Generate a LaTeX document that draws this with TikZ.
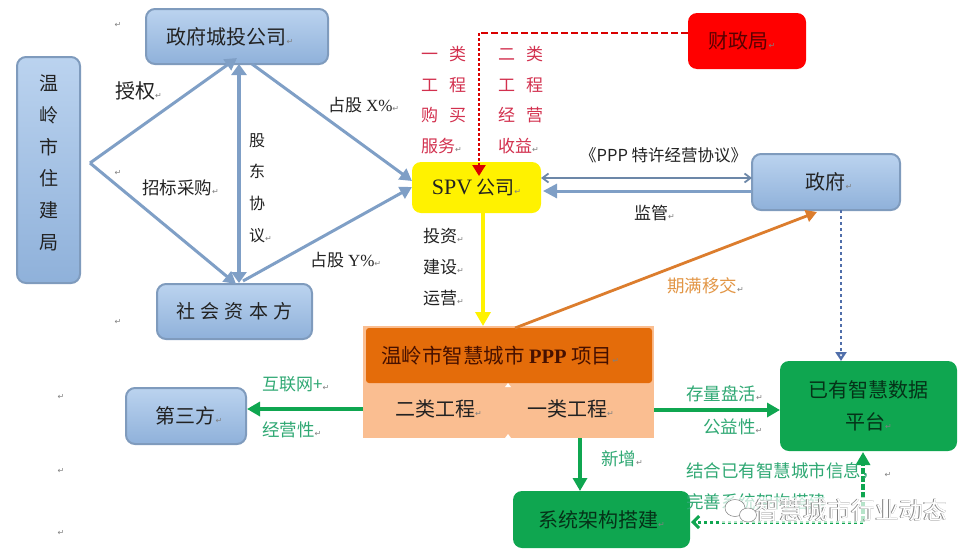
\documentclass[tikz,border=0pt]{standalone}
\usepackage{fontspec}
\setmainfont{Noto Sans CJK SC}
\newfontfamily\lat{Liberation Serif}
\newfontfamily\retf{DejaVu Sans}
\usetikzlibrary{arrows.meta}
\definecolor{bedge}{HTML}{7F9BBD}
\definecolor{barrow}{HTML}{7F9FC6}
\definecolor{btop}{HTML}{BBD3EF}
\definecolor{bbot}{HTML}{8FB1DA}
\definecolor{gbox}{HTML}{0FA650}
\definecolor{gtxt}{HTML}{2FA873}
\definecolor{rtxt}{HTML}{D2304E}
\definecolor{ink}{HTML}{222222}
\definecolor{litebox}{HTML}{FABE91}
\definecolor{orgbox}{HTML}{E46C0A}
\definecolor{orgtxt}{HTML}{461000}
\definecolor{orgline}{HTML}{DC7D2D}
\definecolor{orglab}{HTML}{E29646}
\definecolor{dotblue}{HTML}{506EAA}
\newcommand{\rt}{{\retf\fontsize{8}{8}\selectfont\textcolor{gray}{↵}}}
\newcommand{\fs}[1]{\fontsize{#1}{#1}\selectfont}
\tikzset{
  x=1pt,y=1pt,
  boxbase/.style={inner sep=0pt,rounded corners=9pt,align=center,text=ink,font=\fs{19}},
  bluebox/.style={boxbase,draw=bedge,line width=2pt,top color=btop,bottom color=bbot},
  greenbox/.style={boxbase,fill=gbox,text=black!70!gbox},
  lab/.style={inner sep=0pt,anchor=west,text=ink,font=\fs{17}},
  glab/.style={lab,text=gtxt},
  stack/.style={inner sep=0pt,anchor=north west,align=left,text=ink},
  retmark/.style={inner sep=0pt},
  bline/.style={draw=barrow,line width=3pt},
  btip/.style={-{Triangle[width=13pt,length=12pt]}},
  gline/.style={draw=gbox,line width=3.4pt,-{Triangle[width=14pt,length=13pt]}},
}
\begin{document}
\begin{tikzpicture}
\useasboundingbox (0,0) rectangle (980,-552);
% boxes
\node[bluebox,minimum width=63,minimum height=226,font=\fontsize{19}{31.7}\selectfont] (wz) at (48.5,-170) {温\\岭\\市\\住\\建\\局\\[-15.7pt]~};
\node[bluebox,minimum width=182,minimum height=55] (city) at (237,-36.5) {\fs{20}政府城投公司\rt\hspace{14pt}};
\node[bluebox,minimum width=155,minimum height=55] (social) at (234.5,-311.5) {\fs{19}社\hspace{5.5pt}会\hspace{5.5pt}资\hspace{5.5pt}本\hspace{5.5pt}方};
\node[boxbase,fill=yellow,minimum width=129,minimum height=51] (spv) at (476.5,-187.5) {{\lat\fs{22}SPV} 公司\rt};
\node[bluebox,minimum width=148,minimum height=56] (gov) at (826,-182) {\hspace{6pt}\fs{20}政府\rt};
\node[boxbase,fill=red,minimum width=118,minimum height=56,text=black!65!red] (fin) at (747,-41) {\fs{20}财政局\rt\hspace{10pt}};
\node[inner sep=0pt,fill=litebox,minimum width=291,minimum height=112] (lite) at (508.5,-382) {};
\node[inner sep=0pt,rounded corners=3pt,fill=orgbox,minimum width=286,minimum height=55,text=orgtxt,font=\fs{20.5}] (proj) at (509,-355.5) {\hspace{-18pt}温岭市智慧城市 {\lat\bfseries PPP} 项目\rt};
\node[bluebox,minimum width=120,minimum height=56] (third) at (186,-416) {\hspace{6pt}\fs{20}第三方\rt};
\node[greenbox,minimum width=177,minimum height=90,font=\fontsize{20}{32}\selectfont] (exist) at (868.5,-406) {已有智慧数据\\平台\rt};
\node[greenbox,minimum width=177,minimum height=57] (sys) at (601.5,-519.5) {\fs{20}系统架构搭建\rt};
% cell texts
\node[lab,font=\fs{20}] (cell2) at (395,-409) {二类工程\rt};
\node[lab,font=\fs{20}] (cell1) at (527,-409) {一类工程\rt};
\fill[white] (505,-387) -- (511,-387) -- (508,-383) -- cycle;
\fill[white] (505,-438) -- (511,-438) -- (508,-434) -- cycle;
% free ends
\coordinate (apex) at (90,-163);
\coordinate (redcorner) at (479,-33);
\coordinate (gcorner) at (863,-522);
% blue connectors
\draw[bline,btip] (apex) -- (237,-58);
\draw[bline,btip] (apex) -- (236,-284);
\draw[bline,line width=4pt,{Triangle[width=15pt,length=11pt]}-{Triangle[width=15pt,length=11pt]}] (239,-64) -- (239,-283);
\draw[bline,btip] (252,-64) -- (412,-181);
\draw[bline,btip] (243,-281) -- (412,-187);
\draw[draw=black!15!barrow,line width=1.8pt,{Straight Barb[width=9pt,length=6pt]}-{Straight Barb[width=9pt,length=6pt]}] (541,-178) -- (752,-178);
\draw[draw=barrow,line width=3pt,-{Triangle[width=14pt,length=14pt]}] (752,-191) -- (543,-191);
% red
\draw[draw=red!85!black,line width=2.8pt,dash pattern=on 7pt off 3pt] (688,-33) -- (redcorner);
\draw[draw=red!85!black,line width=2.4pt,dash pattern=on 2.5pt off 2.5pt,-{Triangle[width=13pt,length=11pt]}] (redcorner) -- (479,-176);
% yellow
\draw[draw=yellow,line width=3.4pt,-{Triangle[width=15pt,length=14pt]}] (483,-213) -- (483,-326);
% orange
\draw[draw=orgline,line width=2.8pt,-{Triangle[width=12pt,length=11pt]}] (515,-328) -- (817,-212);
% blue dotted
\draw[draw=dotblue,line width=2.8pt,dash pattern=on 3pt off 3pt,-{Triangle[width=11pt,length=9pt,open]}] (841,-210) -- (841,-361);
% green
\draw[gline] (363,-409) -- (247,-409);
\draw[gline] (654,-410) -- (780,-410);
\draw[gline] (580,-438) -- (580,-491);
\draw[draw=gbox,line width=3.2pt,dash pattern=on 6pt off 2pt,-{Triangle[width=14pt,length=13pt]}] (gcorner) -- (863,-452);
\draw[draw=gbox,line width=3pt,dash pattern=on 3pt off 3pt,-{Straight Barb[width=12pt,length=6pt]}] (gcorner) -- (691,-522);
% labels
\node[lab,font=\fs{20}] (l1) at (115,-91) {授权\rt};
\node[lab,font=\fs{17.5}] (l2) at (142,-188) {招标采购\rt};
\node[stack,font=\fontsize{16}{31.7}\selectfont] (l3) at (249,-133) {股\\东\\协\\议\rt};
\node[lab] (l4) at (328,-105) {占股 {\lat X\%}\rt};
\node[lab] (l5) at (310,-260) {占股 {\lat Y\%}\rt};
\node[stack,text=rtxt,font=\fontsize{17}{30.7}\selectfont] (l6) at (421,-46) {一\hspace{11pt}类\\工\hspace{11pt}程\\购\hspace{11pt}买\\服务\rt};
\node[stack,text=rtxt,font=\fontsize{17}{30.7}\selectfont] (l7) at (498,-46) {二\hspace{11pt}类\\工\hspace{11pt}程\\经\hspace{11pt}营\\收益\rt};
\node[lab,font=\fs{16.5}] (l8) at (580,-155) {《PPP 特许经营协议》};
\node[lab,font=\fs{17}] (l9) at (634,-213) {监管\rt};
\node[stack,font=\fontsize{17}{31}\selectfont] (l10) at (423,-228) {投资\rt\\建设\rt\\运营\rt};
\node[lab,text=orglab,font=\fs{17.5}] (l11) at (667,-286) {期满移交\rt};
\node[glab] (l12) at (262,-384) {互联网+\rt};
\node[glab,font=\fs{17.5}] (l13) at (262,-430) {经营性\rt};
\node[glab,font=\fs{17.5}] (l14) at (686,-394) {存量盘活\rt};
\node[glab,font=\fs{17.5}] (l15) at (703,-427) {公益性\rt};
\node[glab,font=\fs{17.5}] (l16) at (601,-459) {新增\rt};
\node[glab,font=\fs{17.5}] (l17) at (686,-471) {结合已有智慧城市信息，\hspace{6pt}\rt};
\node[glab,font=\fs{17.5}] (l18) at (686,-502) {完善系统架构搭建};
% stray return marks
\foreach \n/\mx/\my in {a/118/-25,b/118/-173,c/118/-322,d/61/-397,e/61/-471,f/61/-533}
  \node[retmark] (mark\n) at (\mx,\my) {\rt};
% watermark
\fill[white,opacity=.7] (722,-497) rectangle (948,-523);
\draw[gray,line width=.5pt,fill=white] (735,-508) ellipse (10 and 8.5);
\draw[gray,line width=.5pt,fill=white] (748,-515) ellipse (8.5 and 7);
\node[inner sep=0pt,anchor=west,text=gray,font=\fs{24}] (wm0) at (755.5,-510) {智慧城市行业动态};
\node[inner sep=0pt,anchor=west,text=gray,font=\fs{24}] (wm1) at (754.5,-510) {智慧城市行业动态};
\node[inner sep=0pt,anchor=west,text=white,font=\fs{24}] (wm2) at (755,-510) {智慧城市行业动态};
\end{tikzpicture}
\end{document}
